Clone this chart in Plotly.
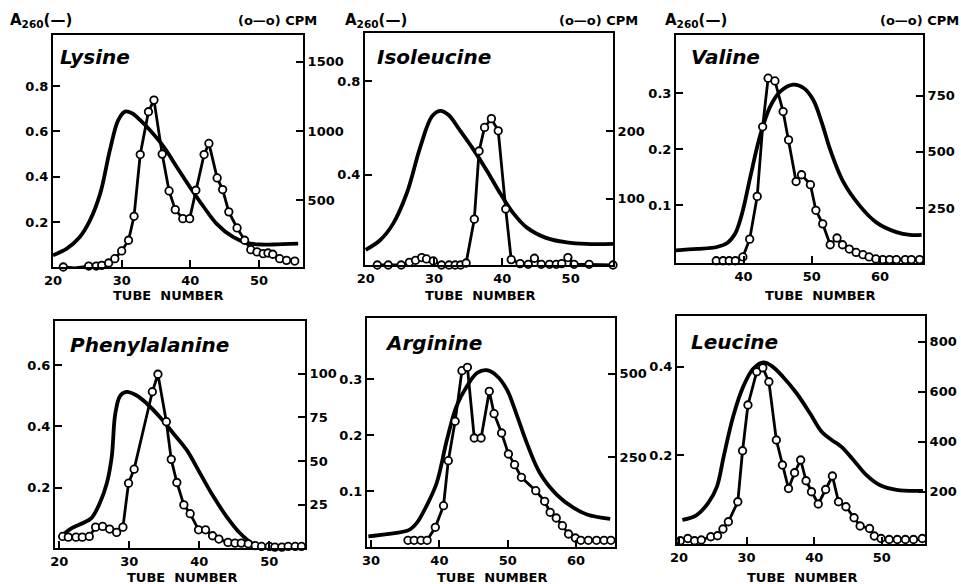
import plotly.graph_objects as go

W, H = 961, 584

# ---------------- data ----------------
# Lysine
lys_cpm_tube = [21.5, 23.2, 25.2, 26.3, 27.1, 28.1, 29.0, 30.0, 31.0, 31.8, 32.7, 33.9, 34.7, 35.9, 36.9, 37.8,
                38.9, 39.9, 40.8, 42.0, 42.7, 43.9, 44.7, 45.6, 46.8, 47.9, 48.8, 49.7, 50.6, 51.3, 52.0, 53.0, 54.0, 55.2]
lys_cpm = [18, 11, 25, 25, 30, 47, 78, 134, 211, 384, 830, 1139, 1223, 833, 567, 432,
           367, 367, 572, 830, 910, 661, 577, 416, 300, 211, 143, 127, 114, 119, 110, 78, 66, 61]
lys_a_tube = [20, 22, 23.9, 25.4, 26.9, 28.3, 29.5, 30.5, 31.5, 32.7, 34.1, 36.1, 38.0, 39.9, 41.9, 43.8, 46.2, 48.2, 50.1, 52.0, 55.7]
lys_a260 = [0.056, 0.085, 0.136, 0.21, 0.33, 0.52, 0.65, 0.687, 0.68, 0.65, 0.606, 0.533, 0.445, 0.357, 0.27, 0.195, 0.136, 0.11, 0.103, 0.103, 0.107]

# Isoleucine
ile_cpm_tube = [21.7, 23.3, 25.2, 26.4, 27.3, 28.2, 28.9, 29.9, 31.1, 32.2, 33.1, 33.9, 34.7, 35.9, 36.6, 37.4,
                38.4, 39.4, 40.5, 41.3, 42.6, 43.8, 44.7, 45.7, 46.9, 47.9, 48.7, 49.6, 50.5, 52.7, 56.2]
ile_cpm = [2, 2, 2, 6, 9, 13, 11, 8, 2, 2, 2, 2, 5, 70, 171, 206,
           219, 201, 85, 10, 4, 3, 12, 3, 3, 3, 4, 13, 3, 3, 2]
ile_a_tube = [20, 22.1, 24, 26, 28, 29.7, 30.9, 32.1, 33.8, 35.8, 37.7, 39.7, 41.6, 43.6, 46.5, 49.4, 52.3, 56.2]
ile_a260 = [0.079, 0.12, 0.19, 0.32, 0.52, 0.65, 0.674, 0.657, 0.59, 0.507, 0.42, 0.32, 0.236, 0.174, 0.129, 0.111, 0.104, 0.104]

# Valine
val_cpm_tube = [36.0, 37.0, 37.9, 38.8, 39.9, 40.9, 42.0, 42.8, 43.6, 44.6, 45.8, 46.6, 47.7, 48.5, 49.8, 50.6,
                51.6, 52.7, 53.7, 54.5, 55.5, 56.5, 57.5, 58.4, 59.4, 60.4, 61.4, 62.4, 63.7, 64.6, 65.8]
val_cpm = [16, 16, 16, 16, 33, 112, 302, 611, 827, 815, 679, 553, 368, 398, 354, 240,
           180, 87, 117, 87, 68, 53, 43, 33, 24, 21, 21, 21, 21, 21, 21]
val_a_tube = [30.1, 33.2, 36.1, 37.6, 38.8, 39.8, 41.0, 42.4, 43.9, 45.4, 47.3, 48.8, 50.2, 51.5, 52.7, 54.6, 57.1, 59.5, 62.4, 64.4, 66.1]
val_a260 = [0.0196, 0.022, 0.0255, 0.0326, 0.050, 0.086, 0.151, 0.223, 0.276, 0.303, 0.315, 0.309, 0.288, 0.246, 0.199, 0.142, 0.098, 0.069, 0.052, 0.047, 0.047]

# Phenylalanine
phe_cpm_tube = [20.5, 21.3, 22.4, 23.3, 24.3, 25.2, 26.2, 27.2, 28.2, 29.1, 29.9, 30.7, 33.3, 34.1, 35.3, 36.0,
                36.8, 37.8, 38.7, 39.9, 40.9, 41.9, 42.8, 44.1, 45.1, 46.0, 47.0, 48.0, 48.9, 50.0, 50.8, 51.8, 52.7, 53.7, 54.6]
phe_cpm = [7, 6.6, 6.6, 6.6, 7, 12.3, 12.7, 11.2, 9.3, 12.3, 37.4, 45.4, 89.6, 99.6, 72.5, 51,
           37.8, 25, 20, 10.8, 10.8, 7.4, 5.5, 3.6, 3.2, 3.2, 2.8, 1.7, 1.3, 1.3, 0.9, 0.9, 1.3, 1.3, 1.3]
phe_a_tube = [20, 21.8, 23.4, 24.6, 25.8, 26.8, 27.5, 28.0, 28.7, 29.6, 31.0, 32.5, 34.4, 36.3, 38.2, 40.1, 42.0, 43.9, 45.8, 47.7, 49.1]
phe_a260 = [0.035, 0.067, 0.084, 0.1, 0.149, 0.214, 0.30, 0.44, 0.50, 0.513, 0.502, 0.475, 0.43, 0.377, 0.323, 0.247, 0.171, 0.105, 0.051, 0.015, 0.004]

# Arginine
arg_cpm_tube = [35.4, 36.3, 37.3, 38.2, 39.4, 40.6, 41.3, 42.3, 43.3, 44.1, 45.1, 46.1, 47.3, 48.0, 49.1, 50.1,
                51.0, 52.0, 54.1, 55.4, 56.2, 57.1, 58.0, 58.9, 59.9, 60.7, 61.8, 63.0, 64.1, 65.1]
arg_cpm = [0, 0, 0, 0, 39, 104, 239, 357, 509, 519, 307, 307, 447, 380, 322, 259,
           227, 189, 149, 117, 84, 67, 44, 19, 7, 0, 0, 0, 0, 0]
arg_a_tube = [29.6, 32.3, 35.5, 36.7, 38.1, 39.6, 41.1, 42.5, 44.0, 45.5, 46.9, 48.4, 49.9, 51.3, 52.8, 54.7, 57.2, 59.6, 61.6, 65.0]
arg_a260 = [0.020, 0.024, 0.031, 0.044, 0.074, 0.115, 0.192, 0.252, 0.287, 0.311, 0.316, 0.306, 0.281, 0.237, 0.186, 0.133, 0.094, 0.071, 0.059, 0.051]

# Leucine
leu_cpm_tube = [20.2, 21.3, 22.3, 23.3, 24.7, 25.7, 26.5, 27.3, 28.7, 29.4, 30.2, 31.5, 32.4, 33.3, 34.4, 35.3,
                36.2, 37.1, 38.0, 38.8, 39.6, 40.6, 41.7, 42.7, 43.6, 44.7, 45.9, 46.8, 48.2, 48.9, 49.9, 51.1, 52.3, 53.5, 54.7, 56.0]
leu_cpm = [4, 13, 4, 7, 20, 24, 51, 80, 160, 364, 547, 680, 696, 640, 407, 307,
           213, 276, 327, 244, 200, 151, 209, 263, 160, 140, 96, 63, 53, 23, 13, 9, 9, 9, 9, 13]
leu_a_tube = [20.5, 22.6, 24.3, 25.6, 26.6, 28.0, 29.5, 31.0, 32.5, 33.7, 35.4, 37.4, 39.4, 41.1, 42.6, 44.0, 45.8, 47.7, 49.7, 52.2, 56.1]
leu_a260 = [0.053, 0.064, 0.091, 0.128, 0.196, 0.287, 0.355, 0.396, 0.41, 0.402, 0.377, 0.34, 0.294, 0.253, 0.234, 0.219, 0.189, 0.155, 0.132, 0.121, 0.119]

names = ["Lysine", "Isoleucine", "Valine", "Phenylalanine", "Arginine", "Leucine"]
x_tick_vals = [[20, 30, 40, 50], [20, 30, 40, 50], [30, 40, 50, 60],
               [20, 30, 40, 50], [30, 40, 50, 60], [20, 30, 40, 50]]
a_tick_vals = [[0.2, 0.4, 0.6, 0.8], [0.4, 0.8], [0.1, 0.2, 0.3],
               [0.2, 0.4, 0.6], [0.1, 0.2, 0.3], [0.2, 0.4]]
cpm_tick_vals = [[500, 1000, 1500], [100, 200], [250, 500, 750],
                 [25, 50, 75, 100], [250, 500], [200, 400, 600, 800]]

panels = [
    (lys_cpm_tube, lys_cpm, lys_a_tube, lys_a260),
    (ile_cpm_tube, ile_cpm, ile_a_tube, ile_a260),
    (val_cpm_tube, val_cpm, val_a_tube, val_a260),
    (phe_cpm_tube, phe_cpm, phe_a_tube, phe_a260),
    (arg_cpm_tube, arg_cpm, arg_a_tube, arg_a260),
    (leu_cpm_tube, leu_cpm, leu_a_tube, leu_a260),
]

# ---------------- layout geometry (pixels) ----------------
boxes = [(53, 303, 35, 267), (365, 613, 33, 265), (676, 923, 35, 263),
         (55, 305, 321, 548), (367, 615, 318, 547), (677, 925, 316, 544)]
x_ranges = [[20, 56.4], [19.9, 56.2], [30.1, 66.3], [19.4, 55.1], [29.4, 65.7], [19.7, 56.4]]
a_ranges = [[0.004, 1.024], [0.014, 1.007], [-0.003, 0.4036], [0.002, 0.745], [0.001, 0.409], [-0.0015, 0.515]]
cpm_ranges = [[18, 1693], [2, 346], [6, 1019], [0.4, 130], [-20, 667], [-9, 903]]

FONT = "DejaVu Sans"
tickfont = dict(family=FONT, size=13, color="black", weight="bold")

fig = go.Figure()
layout = dict(width=W, height=H, margin=dict(l=0, r=0, t=0, b=0, autoexpand=False),
              paper_bgcolor="white", plot_bgcolor="white", showlegend=False)
annotations = []

for i, (ct, cv, at, av) in enumerate(panels):
    k = i + 1
    kr = i + 7
    x0, x1, y0, y1 = boxes[i]
    xdom = [x0 / W, x1 / W]
    ydom = [1 - y1 / H, 1 - y0 / H]
    xa = "x" if k == 1 else f"x{k}"
    ya = "y" if k == 1 else f"y{k}"
    yr = f"y{kr}"

    fig.add_trace(go.Scatter(x=at, y=av, mode="lines",
                             line=dict(color="black", width=3.8, shape="spline", smoothing=1.0),
                             xaxis=xa, yaxis=ya, hoverinfo="skip"))
    fig.add_trace(go.Scatter(x=ct, y=cv, mode="lines+markers",
                             line=dict(color="black", width=2.8),
                             marker=dict(symbol="circle", size=7.5, color="white", line=dict(color="black", width=1.8)),
                             xaxis=xa, yaxis=yr, hoverinfo="skip", cliponaxis=False))

    layout[f"xaxis{k}"] = dict(domain=xdom, range=x_ranges[i], anchor=ya, tickvals=x_tick_vals[i],
                               ticks="inside", ticklen=7, tickwidth=2, tickcolor="black",
                               showline=True, linewidth=2, linecolor="black", mirror=True,
                               showgrid=False, zeroline=False, tickfont=tickfont, automargin=False)
    layout[f"yaxis{k}"] = dict(domain=ydom, range=a_ranges[i], anchor=xa, tickvals=a_tick_vals[i],
                               ticks="inside", ticklen=7, tickwidth=2, tickcolor="black",
                               showline=True, linewidth=2, linecolor="black",
                               showgrid=False, zeroline=False, tickfont=tickfont, automargin=False)
    layout[f"yaxis{kr}"] = dict(domain=ydom, range=cpm_ranges[i], anchor=xa, overlaying=ya, side="right",
                                tickvals=cpm_tick_vals[i],
                                ticks="inside", ticklen=7, tickwidth=2, tickcolor="black",
                                showline=True, linewidth=2, linecolor="black",
                                showgrid=False, zeroline=False, tickfont=tickfont, automargin=False)

# panel titles
title_pos = [(58, 57), (375, 57), (689, 57), (68, 345), (383, 343), (689, 342)]
for i, (px, py) in enumerate(title_pos):
    annotations.append(dict(x=px / W, y=1 - py / H, xref="paper", yref="paper", xanchor="left", yanchor="middle",
                            text=f"<b><i>{names[i]}</i></b>", showarrow=False,
                            font=dict(family=FONT, size=20, color="black")))

# A260 / CPM headers (top row)
a_hdr = [(8, 20), (343, 20), (663, 20)]
c_hdr = [(319, 20), (640, 20), (961, 20)]
for (px, py) in a_hdr:
    annotations.append(dict(x=px / W, y=1 - py / H, xref="paper", yref="paper", xanchor="left", yanchor="middle",
                            text="<b>A<sub>260</sub>(—)</b>", showarrow=False,
                            font=dict(family=FONT, size=15, color="black")))
for (px, py) in c_hdr:
    annotations.append(dict(x=px / W, y=1 - py / H, xref="paper", yref="paper", xanchor="right", yanchor="middle",
                            text="<b>(o—o) CPM</b>", showarrow=False,
                            font=dict(family=FONT, size=13, color="black")))

# TUBE NUMBER labels
tube_pos = [(168, 295), (480, 295), (820, 295), (182, 577), (492, 577), (802, 577)]
for (px, py) in tube_pos:
    annotations.append(dict(x=px / W, y=1 - py / H, xref="paper", yref="paper", xanchor="center", yanchor="middle",
                            text="<b>TUBE  NUMBER</b>", showarrow=False,
                            font=dict(family=FONT, size=13, color="black")))

layout["annotations"] = annotations
fig.update_layout(**layout)
fig.write_html("out.html", config={"displayModeBar": False},
               post_script="document.body.style.margin='0';document.body.style.overflow='hidden';")
